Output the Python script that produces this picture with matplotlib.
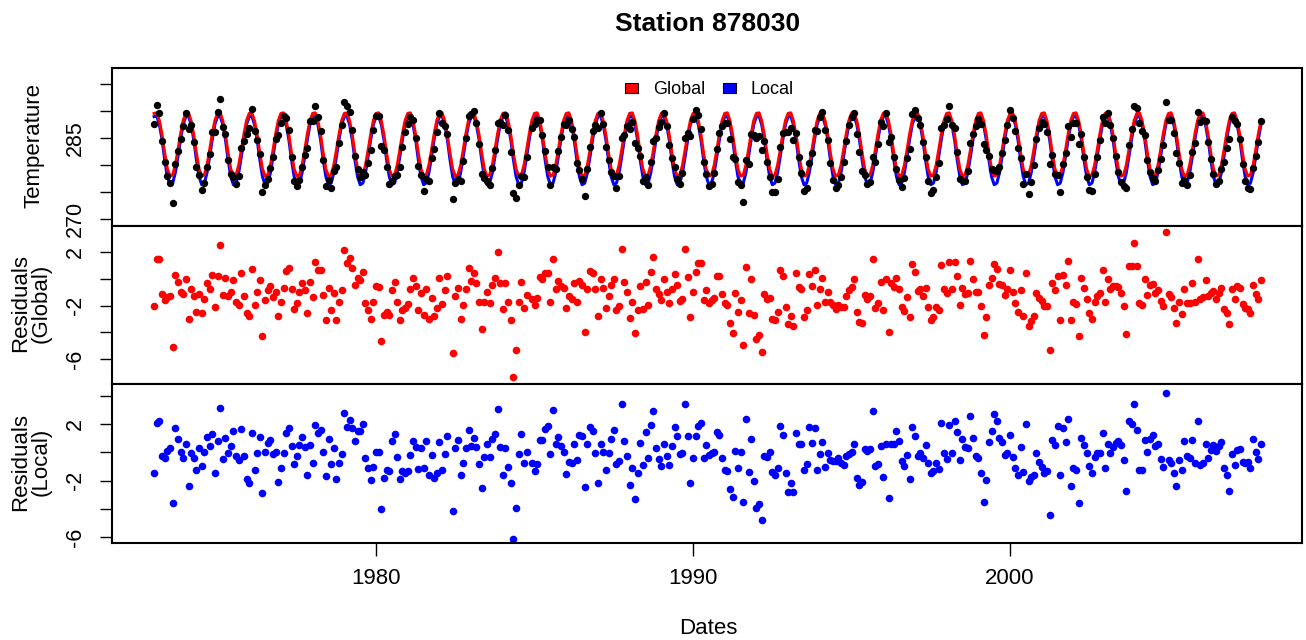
import numpy as np
import matplotlib
matplotlib.use("Agg")
import matplotlib.pyplot as plt
from matplotlib.patches import Patch

plt.rcParams["font.family"] = ["Liberation Sans", "DejaVu Sans"]

# monthly series, Jan 1973 .. Dec 2007
start_year = 1973
title = "Station 878030"

# fitted seasonal cycles (K), Jan..Dec
global_fit_month = [289.6, 289.7, 288.2, 285.6, 282.2, 279.3, 278.0, 278.2, 280.0, 282.8, 285.8, 288.3]
local_fit_month = [289.0, 289.1, 287.5, 284.7, 281.0, 277.9, 276.4, 276.7, 278.6, 281.6, 284.8, 287.6]

# residuals against the global fit, one per month (nan = missing month)
nan = float("nan")
resid_global = [
    -2.03, 1.5, 1.5, -1.15, -1.58, -1.33, -1.28, -5.1, 0.3, -0.23, -0.95, -1.1,
    0.0, -2.98, -0.78, -1.28, -2.48, -1.1, -2.58, -1.48, -0.33, -0.78, 0.3, -2.13,
    0.23, 2.55, -1.18, 0.1, -1.28, -0.95, -0.1, -1.73, -1.95, 0.43, -1.28, -2.58,
    -2.78, 0.73, -1.95, -0.98, -0.1, -4.25, -1.6, -0.83, -0.53, -1.35, -0.98, -2.78,
    -1.73, -0.65, 0.63, 0.85, -0.73, -2.23, -1.83, -0.95, -0.33, -0.85, -2.58, -0.2,
    -1.38, 1.3, 0.65, 0.65, -1.2, -3.1, -0.65, -2.35, -1.08, -3.1, -1.73, -0.85,
    2.15, 1.18, 1.6, 0.85, -0.43, 0.1, -0.08, 0.53, -1.83, -2.33, -2.98, -1.73, -0.55,
    -0.6, -4.68, -2.73, -2.48, -2.73, -0.83, -0.2, -1.73, -3.1, -2.35, -2.15, -1.9,
    -0.78, 0.1, -0.53, -2.35, -1.08, -2.73, -0.73, -2.98, -1.4, -2.78, -2.15, 0.1,
    -1.85, -0.85, 0.23, nan, -5.53, -1.28, -0.65, -2.98, -1.93, -0.73, 0.85, -0.15,
    0.43, -0.33, -1.73, -3.73, -1.73, -0.98, -1.83, -0.45, 0.1, 2.03, -0.33, -2.23,
    -0.33, -1.73, -3.1, -7.35, -5.33, -1.73, -0.23, -2.15, -1.18, nan, -1.48, -1.93,
    -1.4, 0.18, -0.03, 0.43, 0.43, -1.7, 1.48, -0.78, -0.15, -0.53, -0.7, -2.15,
    -1.28, -1.48, -0.33, -1.73, -0.15, -0.45, -3.95, -0.78, 0.6,
    0.48, -0.78, -2.78, -0.03, -0.65, -2.15, -1.28, -0.48, -0.03, -2.35, -2.03, 2.23,
    -0.23, -0.98, -2.9, -1.73, -4.03, -2.35, -0.53, -2.28, -0.2, -1.93, 0.55, 1.68,
    -0.73, -1.15, -1.58, -0.03, -0.95, -1.83, -0.78, 0.4, -0.48, -1.63, -1.48, 2.23,
    0.18, -2.85, -0.98, 0.53, 1.18, 1.18, -1.58, -0.85, -1.78, -1.58, -1.4, 0.23,
    0.23, -1.1, -1.83, -1.95, -3.3, -4.08, -1.08, -2.48, -1.6, -4.98, 0.93, -2.58,
    -0.03, -2.7, -4.53, -4.23, -5.45, -1.15, -1.53, -1.4, -2.98, -3.1, -2.48, 0.65,
    0.23, -2.13, -3.4, -2.78, -3.53, 0.43, -0.6, -0.78, -2.85, -2.33, 0.4, -0.53,
    0.68, -1.93, -0.73, 0.1, -1.73, -0.98, -1.73, -1.98, -2.23, -1.93, -2.13, -2.13,
    -1.28, -0.85, -0.6, -0.03, -2.48, -3.23, -3.33, -1.18, -1.48, -1.28, 1.53, -2.18,
    -1.83, -0.23, -2.33, -0.03, -3.95, -0.33, -0.58, 0.1, -0.78, -2.13, -2.4, -1.38,
    -2.85, 1.1, 0.55, -0.88, -0.78, -1.28, -0.65, -2.13, -3.08, -2.85, -2.13, -2.35,
    1.05, -0.78, -1.08, 1.3, -0.78, 1.3, 0.23, -1.93, -0.65, -1.15, -1.08, 1.38,
    0.03, -0.98, -0.98, -2.03, -4.23, -2.85, -0.45, 0.1, 1.1, 0.73, -0.4, -0.45,
    -1.2, -0.78, 0.65, -0.95, -1.83, -2.48, -0.83, -2.78, 0.43, -3.53, -3.15, -2.78, -1.03,
    -1.4, -1.65, -2.03, -2.03, -5.35, -0.33, -0.85, 0.23, -3.1, 0.3, -0.45, 1.38,
    -3.1, -1.7, -1.85, -4.28, 0.1, -0.65, -1.48, -2.58, -2.98, -1.7, -1.28, -1.08,
    0.65, -1.73, -0.03, -0.78, -0.53, -0.53, -0.6, -1.08, -2.03, -4.15, 0.98, 0.98,
    2.68, 0.98, -1.83, -1.93, -0.03, -1.2, -0.48, -0.35, -1.08, -0.83, -1.65, -2.03,
    3.5, -1.15, -1.33, -2.15, -3.28, -1.73, -2.65, -0.78, -1.78, -1.78, -0.33, -1.73,
    1.48, -1.53, -1.35, -0.1, -1.28, -1.03, -0.9, -1.48, -1.03, -0.65, -2.28, -2.58,
    -3.4, -0.73, -1.48, -0.53, -0.65, -1.9, -2.15, -2.28, -2.58, -0.45, -1.15, -1.48, -0.1,
]

temp_ticks = [270, 275, 280, 285, 290, 295]
temp_labels = ["270", "", "", "285", "", ""]
glob_ticks = [2, 0, -2, -4, -6]
glob_labels = ["2", "", "-2", "", "-6"]
loc_ticks = [4, 2, 0, -2, -4, -6]
loc_labels = ["", "2", "", "-2", "", "-6"]
year_ticks = [1980, 1990, 2000]

n = len(resid_global)
dates = start_year + np.arange(n) / 12.0
month = np.arange(n) % 12
gfit = np.array(global_fit_month)[month]
lfit = np.array(local_fit_month)[month]
resid_g = np.array(resid_global)
temperature = gfit + resid_g
resid_l = temperature - lfit

W, H = 1306, 640
fig = plt.figure(figsize=(W / 100, H / 100), dpi=100)
left, right = 112 / W, 1302 / W
rows = [(68, 226), (226, 384), (384, 543)]
axes = []
for top, bot in rows:
    axes.append(fig.add_axes([left, 1 - bot / H, right - left, (bot - top) / H]))
ax_t, ax_g, ax_l = axes

ax_t.scatter(dates, temperature, s=28, color="black", zorder=3, linewidths=0)
ax_t.plot(dates, lfit, color="blue", lw=2.2, zorder=2)
ax_t.plot(dates, gfit, color="red", lw=2.2, zorder=2)
ax_t.set_ylim(268.76, 298.0)
ax_t.set_yticks(temp_ticks)
ax_t.set_yticklabels(temp_labels)

ax_g.scatter(dates, resid_g, s=30, color="red", linewidths=0)
ax_g.set_ylim(-7.88, 3.98)
ax_g.set_yticks(glob_ticks)
ax_g.set_yticklabels(glob_labels)

ax_l.scatter(dates, resid_l, s=30, color="blue", linewidths=0)
ax_l.set_ylim(-6.40, 4.82)
ax_l.set_yticks(loc_ticks)
ax_l.set_yticklabels(loc_labels)

for ax in axes:
    ax.set_xlim(1971.67, 2009.21)
    ax.set_xticks(year_ticks)
    for s in ax.spines.values():
        s.set_linewidth(1.5)
    ax.tick_params(axis="y", direction="out", length=9, width=1, labelsize=15.5, pad=10)
    for lab in ax.get_yticklabels():
        lab.set_rotation(90)
        lab.set_va("center")
    ax.tick_params(axis="x", direction="out", length=9, width=1, labelsize=16, pad=9)
ax_t.tick_params(axis="x", bottom=False, labelbottom=False)
ax_g.tick_params(axis="x", bottom=False, labelbottom=False)

handles = [Patch(facecolor=c, edgecolor="black", linewidth=0.8) for c in ("red", "blue")]
ax_t.legend(handles, ["Global", "Local"], loc="center", bbox_to_anchor=(0.502, 0.861), ncol=2, frameon=False,
            fontsize=13, handlelength=0.72, handleheight=0.45, handletextpad=0.85, columnspacing=0.95,
            borderpad=0.1)

fig.text(708 / W, 1 - 24 / H, title, ha="center", va="center", fontsize=19, fontweight="bold")
fig.text(708 / W, 1 - 628 / H, "Dates", ha="center", va="center", fontsize=16)
fig.text(34 / W, 1 - 145 / H, "Temperature", ha="center", va="center", rotation=90, fontsize=16)
fig.text(31 / W, 1 - 303 / H, "Residuals\n(Global)", ha="center", va="center", rotation=90, fontsize=16,
         multialignment="center", linespacing=1.0)
fig.text(31 / W, 1 - 462 / H, "Residuals\n(Local)", ha="center", va="center", rotation=90, fontsize=16,
         multialignment="center", linespacing=1.0)

fig.savefig("out.png", dpi=100)
